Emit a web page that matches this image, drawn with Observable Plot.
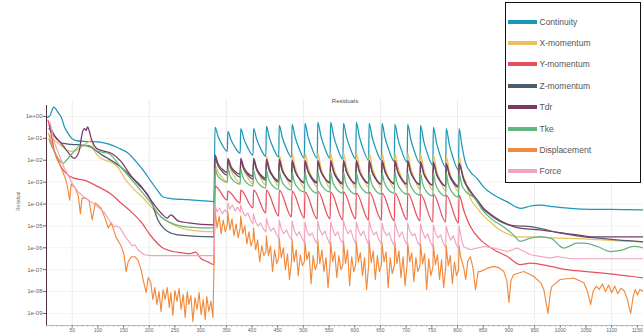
<!DOCTYPE html>
<html><head><meta charset="utf-8">
<script src="https://cdn.jsdelivr.net/npm/d3@7"></script>
<script src="https://cdn.jsdelivr.net/npm/@observablehq/plot@0.6"></script>
<style>
body{margin:0;background:#fff;}
#wrap{position:relative;width:643px;height:336px;overflow:hidden;font-family:"Liberation Sans",Arial,sans-serif;}
#legend{position:absolute;left:505px;top:2px;width:134px;height:179px;border:1.5px solid #111;background:#fff;}
.row{position:absolute;left:1.5px;height:10px;display:flex;align-items:center;}
.sw{width:29px;height:4px;margin-right:3px;}
.lb{font-size:8.5px;color:#555;white-space:nowrap;}
</style></head><body><div id="wrap"><div id="chart"></div><div id="legend"></div></div>
<script>
// Series names and colours
const seriesNames = ["Continuity","X-momentum","Y-momentum","Z-momentum","Tdr","Tke","Displacement","Force"];
const seriesColors = ["#1b98b8","#e8c25e","#e8505d","#4c5d6d","#7b3a66","#62b680","#f28a3b","#f2a3bb"];

// Axis ticks
const yTickExponents = [0,-1,-2,-3,-4,-5,-6,-7,-8,-9];
const xTickLabels = [50,100,150,200,250,300,350,400,450,500,550,600,650,700,750,800,850,900,950,1000,1050,1100,1150];
const xGrid = [50,200,350,500,650,800,950,1100];

// Restart cycles (iteration where each spike starts)
const cycleStarts = [328,353,378,403,428,453,478,503,528,553,578,603,628,653,678,703,728,753,778];

// All values below are log10(residual)
const continuityHead = [[1,-0.05],[7,0.05],[11,0.3],[14,0.43],[18,0.35],[22,0.2],[29,-0.05],[35,-0.48],[42,-0.77],[49,-1.0],[56,-1.09],[73,-1.14],[100,-1.16],[120,-1.25],[139,-1.43],[159,-1.68],[174,-2.05],[188,-2.45],[203,-2.95],[217,-3.41],[227,-3.68],[242,-3.75],[275,-3.8],[300,-3.84],[326,-3.89]];
const continuityOffsets = [0,6,13,24];
const continuityCycles = [[-0.5,-0.91,-1.25,-1.59],[-0.68,-1.06,-1.37,-1.68],[-0.55,-1.01,-1.39,-1.77],[-0.55,-1.03,-1.43,-1.82],[-0.45,-0.99,-1.42,-1.86],[-0.41,-0.96,-1.41,-1.86],[-0.36,-0.95,-1.43,-1.91],[-0.32,-0.92,-1.42,-1.91],[-0.27,-0.89,-1.40,-1.91],[-0.27,-0.91,-1.43,-1.95],[-0.32,-0.94,-1.44,-1.95],[-0.27,-0.93,-1.46,-2.0],[-0.32,-0.96,-1.48,-2.0],[-0.32,-0.98,-1.51,-2.05],[-0.36,-1.02,-1.55,-2.09],[-0.36,-1.04,-1.59,-2.14],[-0.41,-1.10,-1.67,-2.23],[-0.5,-1.19,-1.76,-2.32],[-0.55,-1.27,-1.86,-2.45]];
const continuityTail = [[803,-0.55],[809,-1.4],[816,-2.14],[825,-2.53],[838,-2.83],[851,-3.23],[871,-3.59],[897,-3.9],[923,-4.2],[942,-4.09],[961,-4.05],[987,-4.12],[1020,-4.2],[1059,-4.24],[1098,-4.24],[1162,-4.27]];

const xMomHead = [[3,-0.77],[9,-0.95],[23,-1.23],[34,-1.45],[48,-1.59],[58,-1.55],[69,-1.36],[81,-1.18],[87,-1.09],[93,-1.55],[106,-1.91],[126,-2.09],[139,-2.32],[153,-2.86],[170,-3.32],[190,-3.77],[209,-4.27],[223,-4.59],[237,-4.82],[256,-5.05],[276,-5.18],[326,-5.27]];
const xMomOffsets = [0,6,13,24];
const xMomCycles = [[-2.23,-2.54,-2.77,-3.0],[-2.09,-2.47,-2.76,-3.05],[-2.0,-2.44,-2.76,-3.09],[-1.91,-2.40,-2.77,-3.14],[-1.82,-2.36,-2.77,-3.18],[-1.77,-2.33,-2.76,-3.18],[-1.68,-2.32,-2.79,-3.27],[-1.68,-2.31,-2.77,-3.23],[-1.68,-2.32,-2.79,-3.27],[-1.68,-2.33,-2.8,-3.3],[-1.68,-2.32,-2.79,-3.27],[-1.68,-2.31,-2.77,-3.23],[-1.68,-2.32,-2.79,-3.27],[-1.68,-2.33,-2.8,-3.3],[-1.68,-2.32,-2.79,-3.27],[-1.68,-2.34,-2.83,-3.32],[-1.73,-2.38,-2.87,-3.36],[-1.77,-2.43,-2.92,-3.41],[-1.82,-2.47,-2.96,-3.45]];
const xMomTail = [[803,-1.82],[809,-2.55],[816,-3.0],[825,-3.73],[838,-4.18],[851,-4.55],[864,-4.82],[877,-5.09],[897,-5.36],[916,-5.5],[942,-5.5],[981,-5.55],[1046,-5.59],[1111,-5.68],[1162,-5.73]];

const yMomHead = [[3,-0.18],[7,-0.55],[15,-1.55],[29,-2.32],[42,-2.68],[54,-2.82],[73,-2.91],[102,-3.23],[126,-3.55],[145,-3.95],[165,-4.36],[184,-4.82],[203,-5.45],[223,-5.95],[248,-6.18],[262,-6.22],[280,-6.27],[290,-6.2],[301,-6.5],[314,-6.64],[326,-6.77]];
const yMomOffsets = [0,24];
const yMomCycles = [[-3.18,-3.82],[-3.41,-3.95],[-3.36,-4.18],[-3.36,-4.41],[-3.36,-4.55],[-3.36,-4.59],[-3.41,-4.64],[-3.45,-4.68],[-3.41,-4.68],[-3.45,-4.73],[-3.45,-4.68],[-3.5,-4.73],[-3.45,-4.73],[-3.5,-4.77],[-3.5,-4.73],[-3.5,-4.77],[-3.55,-4.82],[-3.55,-4.82],[-3.59,-4.86]];
const yMomTail = [[803,-3.59],[812,-4.27],[825,-5.03],[845,-5.64],[871,-6.09],[897,-6.4],[922,-6.77],[942,-6.7],[981,-6.85],[1013,-7.0],[1046,-7.08],[1078,-7.15],[1111,-7.23],[1137,-7.3],[1162,-7.38]];

const zMomHead = [[5,-0.55],[19,-1.0],[32,-1.23],[48,-1.27],[81,-1.36],[106,-1.73],[145,-2.32],[178,-3.09],[203,-3.82],[217,-4.73],[236,-5.26],[255,-5.41],[326,-5.5]];
const zMomOffsets = [0,6,13,24];
const zMomCycles = [[-1.91,-2.26,-2.49,-2.68],[-2.0,-2.35,-2.58,-2.77],[-2.05,-2.41,-2.66,-2.86],[-2.05,-2.44,-2.7,-2.91],[-2.09,-2.5,-2.77,-3.0],[-2.09,-2.5,-2.77,-3.0],[-2.09,-2.52,-2.81,-3.05],[-2.09,-2.5,-2.77,-3.0],[-2.09,-2.52,-2.81,-3.05],[-2.09,-2.52,-2.81,-3.05],[-2.09,-2.54,-2.84,-3.09],[-2.09,-2.52,-2.81,-3.05],[-2.09,-2.54,-2.84,-3.09],[-2.09,-2.54,-2.84,-3.09],[-2.09,-2.54,-2.84,-3.09],[-2.09,-2.56,-2.88,-3.14],[-2.14,-2.59,-2.89,-3.14],[-2.14,-2.61,-2.92,-3.18],[-2.18,-2.63,-2.93,-3.18]];
const zMomTail = [[803,-2.18],[812,-2.9],[825,-3.45],[838,-3.85],[851,-4.25],[864,-4.5],[883,-4.8],[900,-4.95],[916,-5.0],[942,-5.03],[968,-5.15],[994,-5.3],[1033,-5.45],[1070,-5.55],[1110,-5.64],[1162,-5.73]];

const tdrHead = [[5,-0.32],[13,-0.77],[23,-1.09],[32,-1.32],[42,-1.64],[54,-1.91],[64,-1.55],[67,-1.09],[71,-0.64],[74,-0.55],[77,-0.64],[80,-0.48],[83,-0.64],[87,-1.0],[91,-1.23],[97,-1.45],[106,-1.55],[126,-1.68],[145,-2.05],[165,-2.73],[184,-3.18],[203,-3.82],[223,-4.41],[235,-4.64],[242,-4.5],[256,-4.77],[276,-4.86],[326,-4.95]];
const tdrOffsets = [0,6,13,24];
const tdrCycles = [[-1.77,-2.16,-2.39,-2.55],[-1.91,-2.27,-2.49,-2.64],[-1.91,-2.32,-2.57,-2.73],[-1.91,-2.37,-2.64,-2.82],[-1.95,-2.43,-2.72,-2.91],[-1.95,-2.45,-2.75,-2.95],[-2.0,-2.5,-2.8,-3.0],[-2.0,-2.52,-2.84,-3.05],[-2.0,-2.5,-2.8,-3.0],[-2.0,-2.55,-2.87,-3.09],[-2.0,-2.52,-2.84,-3.05],[-2.0,-2.52,-2.84,-3.05],[-2.0,-2.55,-2.87,-3.09],[-2.0,-2.52,-2.84,-3.05],[-2.0,-2.55,-2.87,-3.09],[-2.0,-2.55,-2.87,-3.09],[-2.05,-2.6,-2.92,-3.14],[-2.09,-2.64,-2.96,-3.18],[-2.14,-2.69,-3.01,-3.23]];
const tdrTail = [[803,-2.14],[812,-2.85],[825,-3.4],[838,-3.8],[851,-4.2],[864,-4.45],[883,-4.75],[900,-4.95],[916,-5.08],[942,-5.15],[968,-5.2],[994,-5.3],[1033,-5.41],[1059,-5.5],[1100,-5.5],[1162,-5.5]];

const tkeHead = [[5,-1.05],[15,-1.59],[25,-2.0],[32,-2.14],[42,-1.91],[52,-1.64],[64,-1.36],[81,-1.32],[100,-1.59],[120,-1.68],[145,-2.32],[178,-3.23],[203,-3.95],[223,-4.59],[242,-4.86],[276,-5.05],[326,-5.09]];
const tkeOffsets = [0,4,10,24];
const tkeCycles = [[-2.36,-2.65,-2.84,-3.0],[-2.36,-2.69,-2.91,-3.09],[-2.41,-2.76,-2.99,-3.18],[-2.45,-2.82,-3.07,-3.27],[-2.45,-2.84,-3.10,-3.32],[-2.5,-2.89,-3.15,-3.36],[-2.55,-2.96,-3.23,-3.45],[-2.55,-2.98,-3.26,-3.5],[-2.55,-2.96,-3.23,-3.45],[-2.55,-2.98,-3.26,-3.5],[-2.55,-3.0,-3.3,-3.55],[-2.55,-2.98,-3.26,-3.5],[-2.55,-3.0,-3.3,-3.55],[-2.55,-2.98,-3.26,-3.5],[-2.55,-3.0,-3.3,-3.55],[-2.59,-3.04,-3.34,-3.59],[-2.59,-3.06,-3.38,-3.64],[-2.59,-3.06,-3.38,-3.64],[-2.59,-3.08,-3.41,-3.68]];
const tkeTail = [[803,-2.59],[808,-3.1],[815,-3.4],[832,-3.7],[851,-4.35],[870,-4.75],[890,-5.05],[909,-5.41],[922,-5.71],[942,-5.56],[961,-5.49],[981,-5.56],[1007,-6.01],[1033,-5.79],[1046,-5.79],[1072,-5.94],[1098,-6.17],[1117,-6.12],[1143,-5.94],[1162,-6.01]];

const displacementHead = [[5,-0.86],[13,-1.45],[23,-2.0],[32,-2.55],[38,-2.91],[42,-3.36],[45,-3.82],[48,-3.09],[56,-3.27],[62,-3.64],[66,-4.45],[69,-3.73],[77,-3.73],[83,-3.86],[89,-4.73],[95,-3.95],[106,-4.18],[114,-4.64],[120,-5.09],[126,-4.86],[132,-5.27],[135,-5.5],[145,-5.91],[151,-6.32],[155,-7.09],[159,-6.64],[165,-6.41],[172,-6.41],[178,-6.55],[184,-7.0],[188,-7.45],[194,-8.05],[198,-7.36],[203,-7.59],[207,-8.36],[211,-7.82],[215,-8.59],[219,-8.0],[223,-8.91],[227,-7.91],[231,-8.36],[235,-7.82],[239,-8.73],[242,-8.05],[246,-9.09],[250,-7.95],[254,-8.45],[258,-7.86],[262,-8.82],[266,-8.14],[270,-9.18],[274,-8.0],[277,-8.59],[281,-8.18],[285,-9.36],[289,-8.27],[293,-8.82],[297,-8.05],[301,-9.05],[305,-8.36],[309,-9.27],[312,-8.23],[316,-8.91],[320,-8.45],[324,-9.18]];
const displacementOffsets = [0,4,8,12,16,20,24];
const displacementCycles = [[-4.27,-5.09,-4.55,-5.36,-4.73,-5.27,-4.91],[-4.36,-5.18,-4.68,-5.45,-4.91,-5.55,-5.09],[-4.55,-5.36,-5.0,-5.82,-5.27,-5.91,-5.64],[-5.09,-6.09,-5.64,-6.64,-5.91,-6.36,-6.18],[-5.45,-6.36,-5.91,-7.09,-6.09,-6.73,-6.45],[-5.55,-6.45,-6.0,-7.0,-6.27,-7.45,-6.55],[-5.64,-6.64,-6.09,-7.27,-6.32,-6.82,-6.64],[-5.73,-6.55,-6.18,-7.64,-6.36,-7.0,-6.73],[-5.64,-6.73,-6.09,-7.09,-6.45,-7.82,-6.64],[-5.73,-6.64,-6.18,-7.36,-6.36,-7.0,-6.77],[-5.68,-6.73,-6.09,-7.73,-6.41,-7.09,-6.73],[-5.73,-6.64,-6.23,-7.27,-6.45,-7.91,-6.82],[-5.68,-6.68,-6.14,-7.45,-6.36,-7.09,-6.77],[-5.77,-6.64,-6.18,-7.82,-6.45,-7.18,-6.82],[-5.73,-6.73,-6.14,-7.36,-6.41,-7.73,-6.73],[-5.77,-6.64,-6.23,-7.55,-6.45,-7.09,-6.82],[-5.82,-6.73,-6.27,-7.91,-6.5,-7.27,-6.91],[-5.86,-6.77,-6.32,-7.45,-6.55,-7.82,-6.91],[-5.91,-6.82,-6.36,-7.64,-6.64,-7.27,-7.0]];
const displacementTail = [[803,-5.91],[806,-6.41],[812,-6.9],[816,-7.45],[820,-6.6],[825,-6.41],[830,-6.9],[835,-7.91],[840,-7.1],[845,-7.08],[858,-6.93],[871,-6.85],[882,-6.93],[890,-7.08],[896,-7.5],[900,-8.5],[904,-7.5],[909,-7.23],[929,-7.08],[948,-7.3],[962,-7.6],[968,-7.9],[976,-9.0],[981,-8.0],[984,-7.75],[1000,-7.45],[1026,-7.38],[1046,-7.6],[1053,-8.0],[1059,-8.6],[1064,-8.0],[1070,-7.75],[1076,-7.9],[1082,-7.65],[1088,-8.0],[1094,-7.7],[1100,-8.05],[1106,-7.75],[1112,-8.1],[1118,-7.85],[1124,-7.95],[1130,-8.3],[1137,-9.0],[1142,-8.2],[1146,-7.9],[1150,-8.15],[1155,-7.9],[1162,-8.0]];

const forceHead = [[3,-0.41],[7,-0.27],[15,-1.18],[25,-1.77],[34,-2.32],[42,-2.68],[52,-3.14],[62,-3.45],[73,-3.68],[87,-3.91],[100,-4.14],[112,-4.36],[122,-4.73],[132,-5.05],[137,-5.0],[143,-5.09],[151,-5.41],[161,-5.73],[167,-5.91],[172,-5.86],[178,-6.09],[190,-6.32],[203,-6.36],[326,-6.36]];
const forceOffsets = [0,4,9,14,19,24];
const forceCycles = [[-4.05,-4.36,-4.18,-4.45,-4.27,-4.41],[-3.95,-4.23,-4.05,-4.32,-4.14,-4.36],[-4.05,-4.36,-4.55,-4.41,-4.73,-4.91],[-4.45,-4.82,-5.0,-4.86,-5.14,-5.27],[-4.64,-5.0,-5.23,-5.09,-5.36,-5.55],[-4.73,-5.14,-5.36,-5.18,-5.45,-5.64],[-4.77,-5.18,-5.45,-5.27,-5.55,-5.77],[-4.82,-5.23,-5.45,-5.32,-5.64,-5.82],[-4.77,-5.18,-5.41,-5.23,-5.59,-5.86],[-4.82,-5.14,-5.45,-5.27,-5.64,-5.77],[-4.77,-5.09,-5.36,-5.18,-5.55,-5.82],[-4.82,-5.18,-5.45,-5.23,-5.59,-5.86],[-4.77,-5.14,-5.41,-5.27,-5.64,-5.82],[-4.86,-5.23,-5.45,-5.32,-5.68,-5.91],[-4.82,-5.18,-5.5,-5.27,-5.64,-5.86],[-4.86,-5.23,-5.45,-5.36,-5.73,-5.91],[-4.91,-5.27,-5.55,-5.36,-5.73,-5.95],[-4.95,-5.32,-5.55,-5.41,-5.77,-6.0],[-5.0,-5.36,-5.64,-5.45,-5.82,-6.05]];
const forceTail = [[803,-5.0],[808,-5.64],[812,-5.95],[825,-6.09],[851,-5.94],[871,-6.01],[897,-6.17],[916,-6.01],[942,-6.32],[981,-6.47],[994,-6.4],[1020,-6.5],[1162,-6.5]];

// Build the long table for Plot
function build(name, head, offsets, cycles, tail) {
  const rows = [];
  head.forEach(([i, v]) => rows.push({series: name, iter: i, value: Math.pow(10, v)}));
  cycles.forEach((vals, k) => vals.forEach((v, j) => rows.push({series: name, iter: cycleStarts[k] + offsets[j], value: Math.pow(10, v)})));
  tail.forEach(([i, v]) => rows.push({series: name, iter: i, value: Math.pow(10, v)}));
  return rows;
}
const smoothRows = [].concat(
  build("Continuity", continuityHead, continuityOffsets, continuityCycles, continuityTail),
  build("X-momentum", xMomHead, xMomOffsets, xMomCycles, xMomTail),
  build("Y-momentum", yMomHead, yMomOffsets, yMomCycles, yMomTail),
  build("Z-momentum", zMomHead, zMomOffsets, zMomCycles, zMomTail),
  build("Tdr", tdrHead, tdrOffsets, tdrCycles, tdrTail),
  build("Tke", tkeHead, tkeOffsets, tkeCycles, tkeTail)
);
const noisyRows = [].concat(
  build("Displacement", displacementHead, displacementOffsets, displacementCycles, displacementTail),
  build("Force", forceHead, forceOffsets, forceCycles, forceTail)
);

const yMin = Math.pow(10, -9.55), yMax = Math.pow(10, 0.73);
const yTicks = yTickExponents.map(e => Math.pow(10, e));
const fmtY = d => { const e = Math.round(Math.log10(d)); return "1e" + (e >= 0 ? "+" : "-") + String(Math.abs(e)).padStart(2, "0"); };

const chart = Plot.plot({
  width: 643, height: 336,
  marginLeft: 46, marginRight: 0, marginTop: 100, marginBottom: 11,
  style: {fontFamily: "Liberation Sans, Arial, sans-serif", background: "transparent", overflow: "visible"},
  x: {domain: [0, 1162]},
  y: {type: "log", domain: [yMin, yMax]},
  color: {domain: seriesNames, range: seriesColors},
  marks: [
    Plot.gridX(xGrid, {stroke: "#ebebeb", strokeOpacity: 1}),
    Plot.gridY(yTicks, {stroke: "#f4f4f4", strokeOpacity: 1}),
    Plot.axisY(yTicks, {tickFormat: fmtY, fontSize: 6, tickSize: 3, tickPadding: 1, label: null, color: "#666"}),
    Plot.axisX(d3.range(0, 1161, 10), {tickSize: 1.5, tickFormat: () => "", label: null, stroke: "#999"}),
    Plot.axisX(xTickLabels, {tickFormat: d3.format("d"), fontSize: 5, tickSize: 2.5, tickPadding: 0.5, label: null, color: "#666"}),
    Plot.line(smoothRows, {x: "iter", y: "value", z: "series", stroke: "series", strokeWidth: 1.25, curve: "monotone-x", clip: true}),
    Plot.line(noisyRows, {x: "iter", y: "value", z: "series", stroke: "series", strokeWidth: 1.15, clip: true}),
    Plot.ruleX([0], {y1: Math.pow(10, 0.5), y2: yMin, stroke: "#553040", strokeWidth: 1}),
    Plot.ruleY([yMin], {stroke: "#aaa", strokeWidth: 0.8}),
    Plot.text(["Residuals"], {frameAnchor: "top", dy: -2, fontSize: 6, fill: "#555"}),
    Plot.text(["Residual"], {frameAnchor: "left", rotate: -90, dx: -28, dy: -2, fontSize: 5, fill: "#777"})
  ]
});
document.getElementById("chart").appendChild(chart);

// Legend
const legend = document.getElementById("legend");
seriesNames.forEach((name, i) => {
  const row = document.createElement("div");
  row.className = "row";
  row.style.top = (13.5 + i * 21.4) + "px";
  const sw = document.createElement("div");
  sw.className = "sw"; sw.style.background = seriesColors[i];
  const lb = document.createElement("span");
  lb.className = "lb"; lb.textContent = name;
  row.appendChild(sw); row.appendChild(lb);
  legend.appendChild(row);
});
</script></body></html>
